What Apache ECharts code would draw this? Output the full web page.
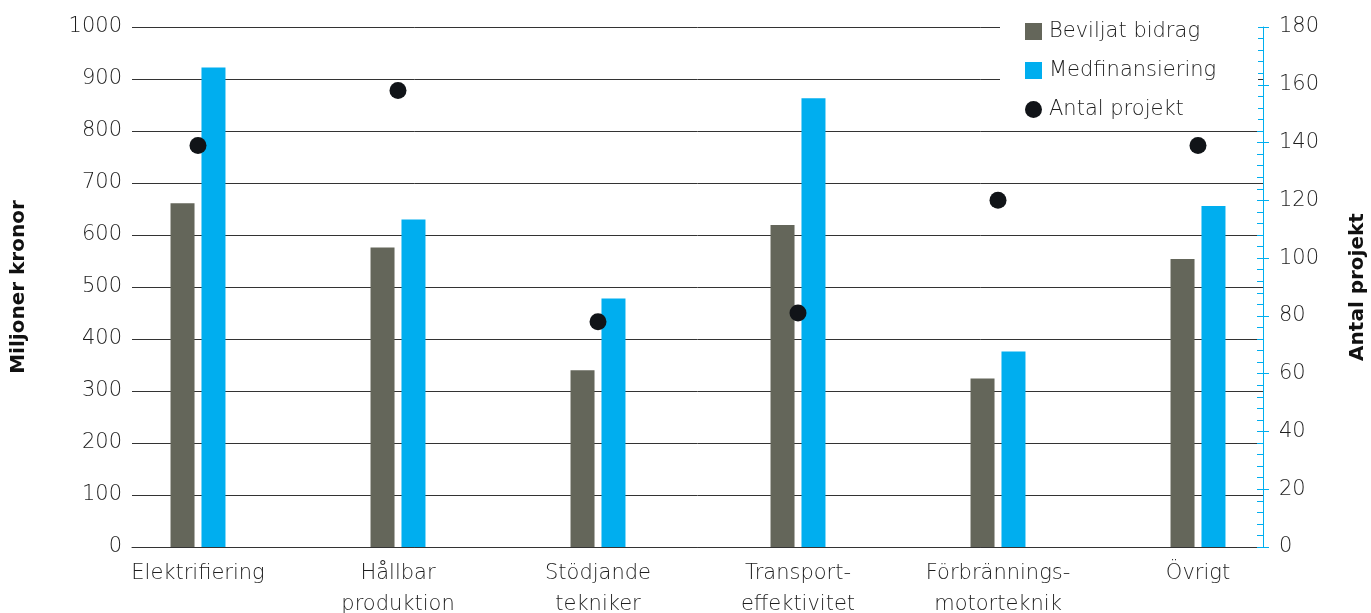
<!DOCTYPE html>
<html><head><meta charset="utf-8">
<script src="https://cdn.jsdelivr.net/npm/echarts@6/dist/echarts.min.js"></script>
<style>html,body{margin:0;padding:0;background:#fff}#c{width:1371px;height:613px}</style>
</head><body><div id="c"></div>
<script>
const categories = ['Elektrifiering', 'Hållbar\nproduktion', 'Stödjande\ntekniker', 'Transport-\neffektivitet', 'Förbrännings-\nmotorteknik', 'Övrigt'];
const beviljat = [661, 576, 340, 619, 324, 554];
const medfinansiering = [922, 630, 478, 863, 376, 656];
const antalProjekt = [139, 158, 78, 81, 120, 139];
const leftTicks = {min: 0, max: 1000, interval: 100};
const rightTicks = {min: 0, max: 180, interval: 20};

const FONT = "'DejaVu Sans'";
const TXT = '#1e1e1e';
const chart = echarts.init(document.getElementById('c'));
const TOP = 27, BOTTOM = 66;
const plain = v => String(v);
chart.setOption({
  animation: false,
  textStyle: {fontFamily: FONT},
  grid: [
    {left: 98, right: 73, top: TOP, bottom: BOTTOM, containLabel: false, outerBoundsMode: 'none'},
    {left: 132, right: 108, top: TOP, bottom: BOTTOM, containLabel: false, outerBoundsMode: 'none'}
  ],
  graphic: [{type: 'rect', z: 1, shape: {x: 1000, y: 18, width: 258, height: 106}, style: {fill: '#fff'}}],
  legend: {
    orient: 'vertical', left: 1025, top: 21, padding: 0, itemWidth: 17, itemHeight: 17, itemGap: 18,
    textStyle: {fontSize: 21, color: TXT, fontFamily: FONT, fontWeight: 200, padding: [0, 0, 0, 2]},
    data: [
      {name: 'Beviljat bidrag', icon: 'rect'},
      {name: 'Medfinansiering', icon: 'rect'},
      {name: 'Antal projekt', icon: 'circle'}
    ]
  },
  xAxis: [
    {type: 'category', gridIndex: 0, data: categories,
     axisLine: {show: false}, axisTick: {show: false},
     axisLabel: {fontSize: 21, color: TXT, margin: 11, lineHeight: 31, fontFamily: FONT, fontWeight: 200}},
    {type: 'value', gridIndex: 1, min: 0, max: 1,
     axisLine: {show: true, lineStyle: {color: '#333', width: 1}}, axisTick: {show: false},
     axisLabel: {show: false}, splitLine: {show: false}}
  ],
  yAxis: [
    {type: 'value', gridIndex: 0, min: leftTicks.min, max: leftTicks.max, interval: leftTicks.interval, show: false},
    {type: 'value', gridIndex: 0, min: rightTicks.min, max: rightTicks.max, interval: rightTicks.interval, show: false},
    {type: 'value', gridIndex: 1, position: 'left', min: leftTicks.min, max: leftTicks.max, interval: leftTicks.interval,
     name: 'Miljoner kronor', nameLocation: 'middle', nameGap: 103,
     nameTextStyle: {fontSize: 20, fontWeight: 'bold', color: '#111', fontFamily: FONT},
     axisLine: {show: false}, axisTick: {show: false},
     axisLabel: {fontSize: 21, color: TXT, margin: 10, fontFamily: FONT, fontWeight: 200, formatter: plain},
     splitLine: {show: true, lineStyle: {color: '#333', width: 1}}},
    {type: 'value', gridIndex: 1, position: 'right', min: rightTicks.min, max: rightTicks.max, interval: rightTicks.interval,
     name: 'Antal projekt', nameLocation: 'middle', nameGap: 85, nameRotate: 90,
     nameTextStyle: {fontSize: 20, fontWeight: 'bold', color: '#111', fontFamily: FONT},
     axisLine: {show: true, lineStyle: {color: '#00aeef', width: 1}},
     axisTick: {show: true, inside: true, length: 6, lineStyle: {color: '#00aeef'}},
     minorTick: {show: true, splitNumber: 5, length: 6, lineStyle: {color: '#00aeef'}},
     axisLabel: {fontSize: 21, color: TXT, margin: 16, fontFamily: FONT, fontWeight: 200, formatter: plain},
     splitLine: {show: false}},
    {type: 'value', gridIndex: 1, position: 'right', min: rightTicks.min, max: rightTicks.max, interval: rightTicks.interval,
     axisLine: {show: false},
     axisTick: {show: true, inside: false, length: 6, lineStyle: {color: '#00aeef'}},
     axisLabel: {show: false}, splitLine: {show: false}}
  ],
  series: [
    {name: 'Beviljat bidrag', type: 'bar', xAxisIndex: 0, yAxisIndex: 0, data: beviljat,
     barWidth: 24, barGap: '29%', itemStyle: {color: '#64665a'}, z: 3},
    {name: 'Medfinansiering', type: 'bar', xAxisIndex: 0, yAxisIndex: 0, data: medfinansiering,
     barWidth: 24, barGap: '29%', itemStyle: {color: '#00aeef'}, z: 3},
    {name: 'Antal projekt', type: 'scatter', xAxisIndex: 0, yAxisIndex: 1, data: antalProjekt,
     symbol: 'circle', symbolSize: 17, itemStyle: {color: '#111418', opacity: 1}, z: 5}
  ]
});
</script></body></html>
